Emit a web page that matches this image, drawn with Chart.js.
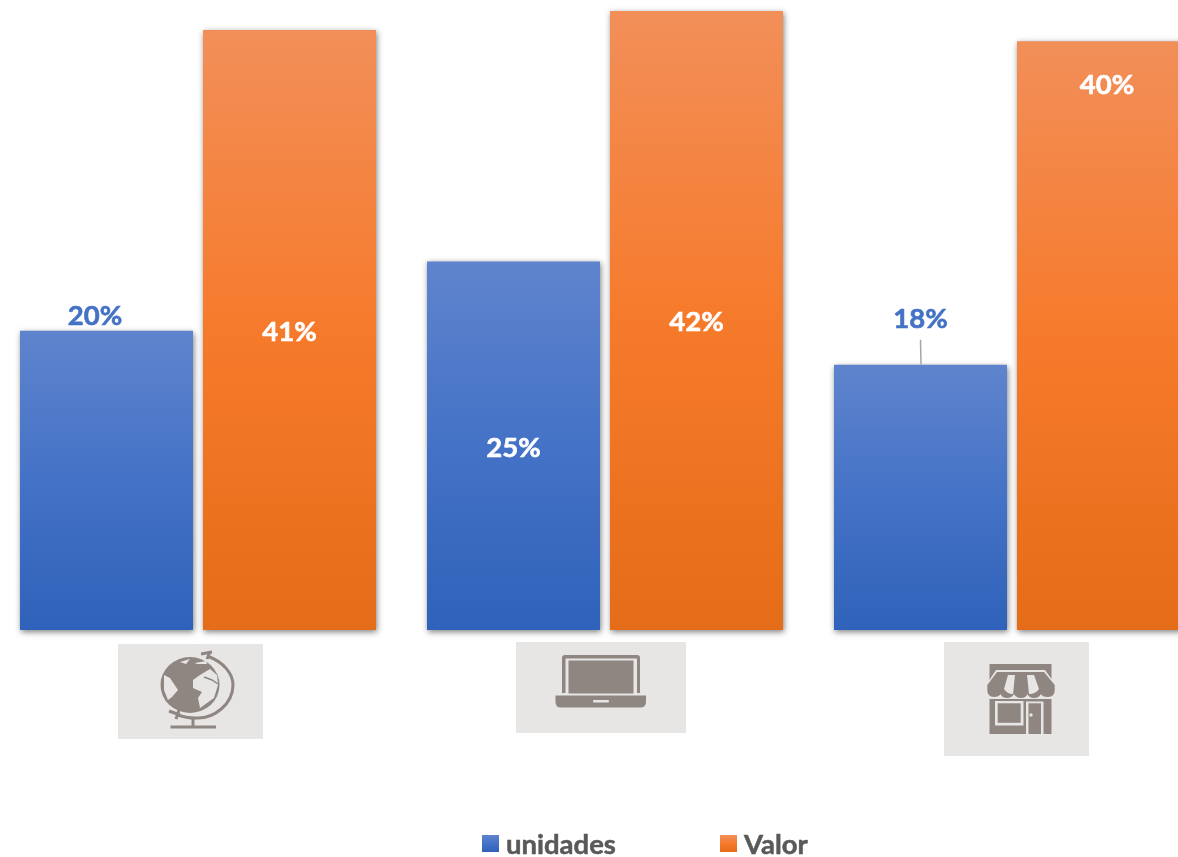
<!DOCTYPE html>
<html>
<head>
<meta charset="utf-8">
<title>unidades y valor</title>
<script src="https://cdn.jsdelivr.net/npm/chart.js@4"></script>
<style>
  html, body { margin: 0; padding: 0; background: #fff; overflow: hidden; width: 1178px; height: 857px; }
  #chart { position: absolute; left: -6px; top: 0; }
  #icons { position: absolute; left: 0; top: 0; }
  .legendItem { position: absolute; top: 828px; height: 32px; font: bold 27.5px Lato, sans-serif; color: #595959; white-space: nowrap; -webkit-text-stroke: 0.5px #595959; }
  .legendItem i { position: absolute; left: 0; top: 7px; width: 17px; height: 17px; }
  .legendItem span { position: absolute; left: 24px; top: 0; line-height: 32px; }
</style>
</head>
<body>
<canvas id="chart" width="1240" height="857"></canvas>

<!-- category icons -->
<svg id="icons" width="1178" height="857" xmlns="http://www.w3.org/2000/svg">
  <!-- globe -->
  <rect x="118" y="644" width="145" height="95" fill="#e7e6e5"/>
  <ellipse cx="190" cy="685" rx="29.5" ry="28" fill="#8f8681"/>
  <path d="M164 675 L170 678 L178 690 L172 697 L168 700 L164 690 Z" fill="#e7e6e5"/>
  <path d="M200 675 L210 669 L217 675 L218 685 L214 698 L200 708 L198 698 L202 692 L193 688 L193 680 Z" fill="#e7e6e5"/>
  <path d="M180 662 L190 659 L186 664 Z M195 663 L206 661 L207 664 L197 664 Z" fill="#e7e6e5"/>
  <path d="M204 677 L212 680 L218 684" fill="none" stroke="#8f8681" stroke-width="1.5"/>
  <g fill="none" stroke="#8f8681">
    <path d="M207 656 C224 662 233 674 233 685 C233 704 214 719 196 718 C189 718 183 717 178 715" stroke-width="3"/>
    <path d="M201 654 L212 652 M210 652 L207 659 M169 711 L180 715 M179 710 L176 719" stroke-width="3"/>
    <path d="M193 717 L193 727" stroke-width="3"/>
    <path d="M170.5 727 L216 727" stroke-width="3"/>
  </g>
  <!-- laptop -->
  <rect x="516" y="642" width="170" height="91" fill="#e7e6e5"/>
  <path d="M562 693 L562 658 Q562 655 565 655 L637 655 Q640 655 640 658 L640 693 Z" fill="#8f8681"/>
  <rect x="565.5" y="658.5" width="71.5" height="35" fill="#e7e6e5"/>
  <rect x="568.5" y="660.5" width="65" height="33" fill="#8f8681"/>
  <path d="M555.5 695.5 L646 695.5 L646 702 Q646 707.5 640 707.5 L561 707.5 Q555.5 707.5 555.5 702 Z" fill="#8f8681"/>
  <rect x="593" y="700" width="16" height="2.4" rx="1" fill="#e7e6e5"/>
  <!-- shop -->
  <rect x="944" y="642" width="145" height="114" fill="#e7e6e5"/>
  <rect x="989.5" y="664" width="62" height="70" fill="#8f8681"/>
  <path d="M996 670 L1045 670 L1056 685 L1056 699 L986 699 L986 685 Z" fill="#e7e6e5"/>
  <path d="M997 672 L1044 672 L1054.7 685 L1054.7 690 Q1054.7 697 1048 697 Q1042 697 1041 694 Q1039 698 1034 698 Q1029 698 1027.5 694 Q1026 698 1021 698 Q1016 698 1014 694 Q1012 698 1007 698 Q1002 698 1000.5 694 Q999 697 994 697 Q987.3 697 987.3 690 L987.3 685 Z" fill="#8f8681"/>
  <path d="M1008 675 L1015 675 L1013 694 Q1007 694 1004 689 Z M1027 675 L1034 675 L1039 689 Q1036 694 1029 694 Z" fill="#e7e6e5"/>
  <rect x="995" y="701" width="28.5" height="24.5" fill="#e7e6e5"/>
  <rect x="997.7" y="703.3" width="23" height="19.5" fill="#8f8681"/>
  <rect x="1026" y="701.5" width="17.5" height="32.5" fill="#e7e6e5"/>
  <rect x="1028.5" y="703.3" width="12.5" height="30.7" fill="#8f8681"/>
  <circle cx="1031" cy="715" r="1.7" fill="#e7e6e5"/>
</svg>

<div class="legendItem" id="legend0" style="left:482px"><i></i><span></span></div>
<div class="legendItem" id="legend1" style="left:720px"><i></i><span></span></div>

<script>
// Data
const categories = ["Global", "Online", "Tienda"];
const seriesNames = ["unidades", "Valor"];
const unidades = [20.3, 25.0, 18.0];
const valor = [40.7, 42.0, 39.95];
const leaderLineSeries = 0;
const leaderLineCategory = 2;

// top, middle, bottom of each bar
const blueStops = ["#5f84cd", "#4472c6", "#2f62ba"];
const orangeStops = ["#f28f59", "#f67a2b", "#e56c18"];

function barGradient(stops) {
  return function (context) {
    const chart = context.chart;
    if (context.raw === undefined || !chart.chartArea) return stops[1];
    const scale = chart.scales.y;
    const g = chart.ctx.createLinearGradient(0, scale.getPixelForValue(context.raw), 0, scale.getPixelForValue(0));
    g.addColorStop(0, stops[0]);
    g.addColorStop(0.5, stops[1]);
    g.addColorStop(1, stops[2]);
    return g;
  };
}

// Soft shadow on the bars
const barShadow = {
  id: "barShadow",
  beforeDatasetDraw(chart) {
    const ctx = chart.ctx;
    ctx.save();
    ctx.shadowColor = "rgba(0,0,0,0.5)";
    ctx.shadowBlur = 6;
    ctx.shadowOffsetX = 1;
    ctx.shadowOffsetY = 2;
  },
  afterDatasetDraw(chart) {
    chart.ctx.restore();
  },
};

// Value labels, placed like the original: some inside the bar, some outside
const barLabels = {
  id: "barLabels",
  afterDatasetsDraw(chart) {
    const ctx = chart.ctx;
    ctx.save();
    ctx.font = "bold 27.5px Lato, sans-serif";
    ctx.textAlign = "center";
    ctx.textBaseline = "middle";
    ctx.lineWidth = 0.6;
    chart.data.datasets.forEach((ds, i) => {
      chart.getDatasetMeta(i).data.forEach((bar, j) => {
        const text = Math.round(ds.data[j]) + "%";
        let x = bar.x;
        let y = (bar.y + bar.base) / 2 + 2;
        let color = "#fff";
        if (i === 0 && j === 0) {
          x -= 11.5;
          y = bar.y - 15;
          color = "#4472c4";
        }
        if (i === leaderLineSeries && j === leaderLineCategory) {
          y = bar.y - 46;
          color = "#4472c4";
          ctx.strokeStyle = "#a6a6a6";
          ctx.lineWidth = 1.5;
          ctx.beginPath();
          ctx.moveTo(bar.x, bar.y - 25);
          ctx.lineTo(bar.x + 0.5, bar.y);
          ctx.stroke();
          ctx.lineWidth = 0.6;
        }
        if (i === 1 && j === 2) {
          x += 3.5;
          y = bar.y + 44;
        }
        ctx.fillStyle = color;
        ctx.strokeStyle = color;
        ctx.fillText(text, x, y);
        ctx.strokeText(text, x, y);
      });
    });
    ctx.restore();
  },
};

new Chart(document.getElementById("chart").getContext("2d"), {
  type: "bar",
  data: {
    labels: categories,
    datasets: [
      { label: seriesNames[0], data: unidades, backgroundColor: barGradient(blueStops), clip: false },
      { label: seriesNames[1], data: valor, backgroundColor: barGradient(orangeStops), clip: false },
    ],
  },
  options: {
    responsive: false,
    animation: false,
    devicePixelRatio: 1,
    layout: { padding: { left: 0.5, right: 18.5, top: 0, bottom: 227 } },
    categoryPercentage: 0.8993,
    barPercentage: 0.9454,
    plugins: { legend: { display: false }, tooltip: { enabled: false } },
    scales: {
      x: { display: false },
      y: { display: false, min: 0, max: 42.74 },
    },
  },
  plugins: [barShadow, barLabels],
});

// Legend
seriesNames.forEach((name, i) => {
  const item = document.getElementById("legend" + i);
  const stops = i === 0 ? blueStops : orangeStops;
  item.querySelector("span").textContent = name;
  item.querySelector("i").style.background = `linear-gradient(${stops.join(",")})`;
});
</script>
</body>
</html>
